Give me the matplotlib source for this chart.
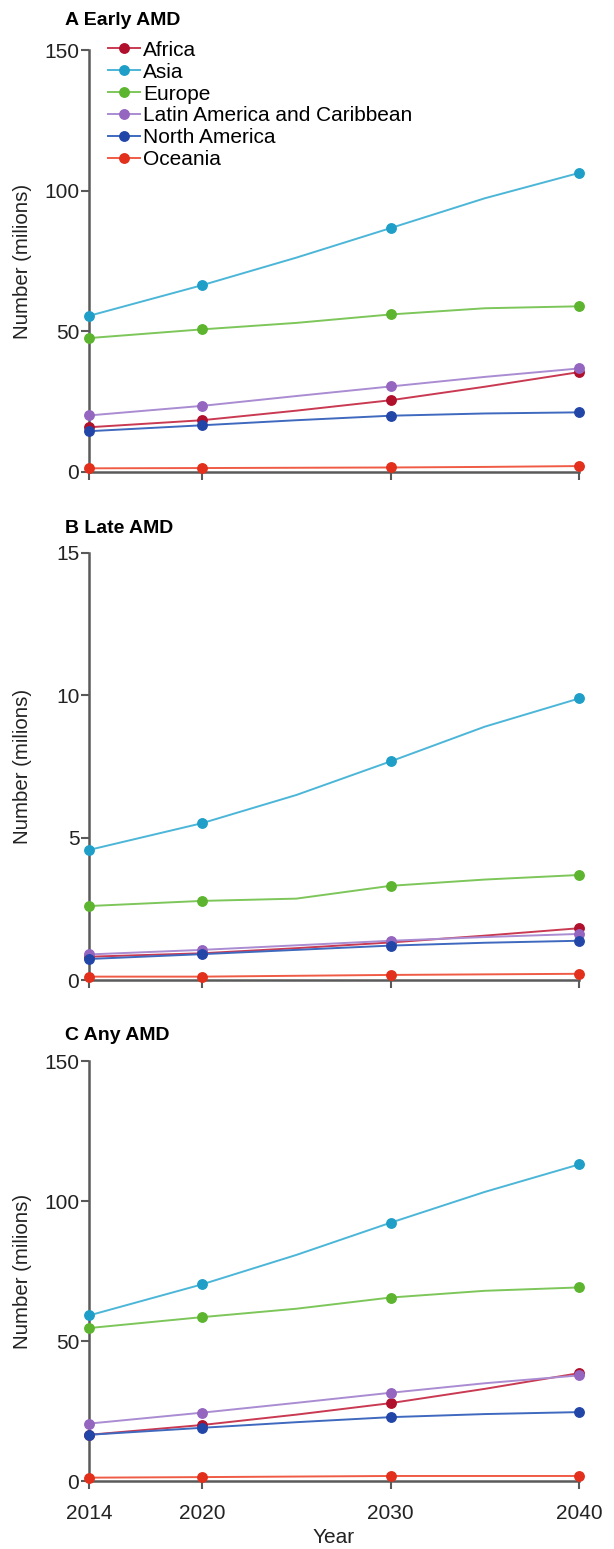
import numpy as np
import matplotlib
matplotlib.use("Agg")
import matplotlib.pyplot as plt

plt.rcParams['font.family'] = ['Liberation Sans', 'DejaVu Sans']

years = [2014, 2020, 2025, 2030, 2035, 2040]
tick_years = [2014, 2020, 2030, 2040]
regions = ['Africa', 'Asia', 'Europe', 'Latin America and Caribbean', 'North America', 'Oceania']

# values (millions); 2025/2035 are unmarked bends of the lines
early = {
    'Africa': [15.9, 18.4, 21.8, 25.5, 30.3, 35.5],
    'Asia': [55.5, 66.4, 76.2, 86.7, 97.3, 106.3],
    'Europe': [47.6, 50.7, 53.0, 56.0, 58.2, 58.9],
    'Latin America and Caribbean': [20.1, 23.5, 27.0, 30.4, 33.8, 36.8],
    'North America': [14.5, 16.6, 18.4, 20.0, 20.8, 21.2],
    'Oceania': [1.3, 1.4, 1.5, 1.6, 1.8, 2.1],
}
late = {
    'Africa': [0.82, 0.94, 1.12, 1.32, 1.56, 1.82],
    'Asia': [4.57, 5.51, 6.50, 7.68, 8.90, 9.89],
    'Europe': [2.60, 2.78, 2.86, 3.31, 3.53, 3.69],
    'Latin America and Caribbean': [0.90, 1.06, 1.22, 1.38, 1.51, 1.62],
    'North America': [0.74, 0.91, 1.06, 1.21, 1.31, 1.38],
    'Oceania': [0.12, 0.12, 0.15, 0.18, 0.20, 0.22],
}
anyamd = {
    'Africa': [16.6, 20.1, 23.8, 27.9, 33.0, 38.6],
    'Asia': [59.2, 70.3, 80.8, 92.3, 103.3, 113.1],
    'Europe': [54.7, 58.6, 61.6, 65.6, 68.0, 69.2],
    'Latin America and Caribbean': [20.6, 24.5, 28.0, 31.6, 35.0, 37.8],
    'North America': [16.6, 19.1, 21.1, 22.9, 24.0, 24.7],
    'Oceania': [1.3, 1.5, 1.7, 1.9, 1.9, 1.9],
}

line_col = {'Africa': '#c93a52', 'Asia': '#4cb6d8', 'Europe': '#7dc65a',
            'Latin America and Caribbean': '#aa8cd2', 'North America': '#3e69be', 'Oceania': '#f05b45'}
mark_col = {'Africa': '#b0102b', 'Asia': '#1f9fc8', 'Europe': '#5db52f',
            'Latin America and Caribbean': '#9466c0', 'North America': '#2246a8', 'Oceania': '#e2301c'}

panels = [
    ('A Early AMD', early, 150, [0, 50, 100, 150]),
    ('B Late AMD', late, 15, [0, 5, 10, 15]),
    ('C Any AMD', anyamd, 150, [0, 50, 100, 150]),
]
# axes boxes in figure fractions (left, bottom, width, height)
boxes = [
    (0.145, 0.6953, 0.798, 0.2724),
    (0.145, 0.3673, 0.798, 0.2757),
    (0.145, 0.0437, 0.798, 0.2713),
]
title_y = [0.9868, 0.6590, 0.3318]

fig = plt.figure(figsize=(6.14, 15.49), dpi=100)
spine_c = '#5a5a5a'
marked = [years.index(y) for y in tick_years]

for i, (title, data, ymax, yt) in enumerate(panels):
    ax = fig.add_axes(boxes[i])
    for r in regions:
        ax.plot(years, data[r], color=line_col[r], lw=1.4, marker='o', markevery=marked,
                ms=6.8, mfc=mark_col[r], mec=mark_col[r], label=r, clip_on=False, zorder=3)
    ax.set_xlim(2014, 2040)
    ax.set_ylim(0, ymax)
    ax.set_xticks(tick_years)
    ax.set_yticks(yt)
    for s in ['top', 'right']:
        ax.spines[s].set_visible(False)
    for s in ['left', 'bottom']:
        ax.spines[s].set_color(spine_c)
        ax.spines[s].set_linewidth(1.8)
    ax.tick_params(axis='both', colors=spine_c, width=1.5, length=6, labelsize=15,
                   labelcolor='#222222', pad=1)
    ax.tick_params(axis='x', pad=10)
    ax.set_ylabel('Number (milions)', fontsize=14.7, color='#222222')
    ax.yaxis.set_label_coords(-0.116, 0.5)
    if i < 2:
        ax.set_xticklabels([])
    else:
        ax.set_xlabel('Year', fontsize=15, color='#222222', labelpad=4)
    fig.text(0.106, title_y[i], title, fontsize=14, fontweight='bold', va='center')
    if i == 0:
        ax.legend(loc='upper left', bbox_to_anchor=(0.038, 1.022), frameon=False,
                  fontsize=15, handlelength=1.55, handletextpad=0.15, labelspacing=0.14,
                  borderaxespad=0, borderpad=0)

fig.savefig('out.png', dpi=100)
